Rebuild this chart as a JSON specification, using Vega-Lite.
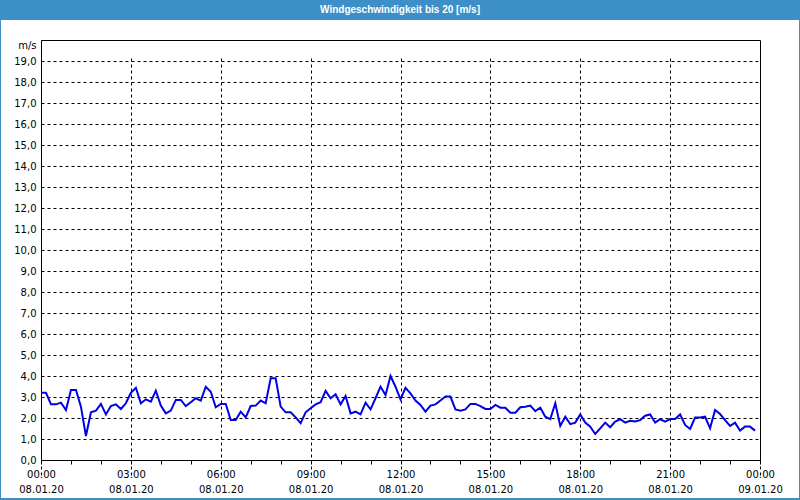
{
  "$schema": "https://vega.github.io/schema/vega-lite/v6.json",
  "padding": {"left": 1, "top": 0, "right": 1, "bottom": 2},
  "background": "#3d8fc8",
  "spacing": 0,
  "columns": 1,
  "config": {
    "axis": {"labelFont": "DejaVu Sans", "labelFontSize": 10, "labelColor": "black", "domainColor": "black", "domainWidth": 1}
  },
  "concat": [
    {
      "width": 798,
      "height": 20,
      "view": {"stroke": null},
      "data": {"values": [{"t": "Windgeschwindigkeit bis 20 [m/s]"}]},
      "mark": {"type": "text", "color": "white", "font": "Liberation Sans", "fontSize": 10, "fontWeight": "bold"},
      "encoding": {"text": {"field": "t"}}
    },
    {
      "width": 798,
      "height": 478,
      "view": {"fill": "white", "stroke": null},
      "data": {"values": [
        {"t":"2020-01-08T00:00","v":3.2},{"t":"2020-01-08T00:10","v":3.2},{"t":"2020-01-08T00:20","v":2.65},{"t":"2020-01-08T00:30","v":2.65},{"t":"2020-01-08T00:40","v":2.73},{"t":"2020-01-08T00:50","v":2.38},
        {"t":"2020-01-08T01:00","v":3.33},{"t":"2020-01-08T01:10","v":3.33},{"t":"2020-01-08T01:20","v":2.54},{"t":"2020-01-08T01:30","v":1.14},{"t":"2020-01-08T01:40","v":2.27},{"t":"2020-01-08T01:50","v":2.35},
        {"t":"2020-01-08T02:00","v":2.67},{"t":"2020-01-08T02:10","v":2.17},{"t":"2020-01-08T02:20","v":2.57},{"t":"2020-01-08T02:30","v":2.65},{"t":"2020-01-08T02:40","v":2.43},{"t":"2020-01-08T02:50","v":2.7},
        {"t":"2020-01-08T03:00","v":3.2},{"t":"2020-01-08T03:10","v":3.44},{"t":"2020-01-08T03:20","v":2.7},{"t":"2020-01-08T03:30","v":2.89},{"t":"2020-01-08T03:40","v":2.78},{"t":"2020-01-08T03:50","v":3.3},
        {"t":"2020-01-08T04:00","v":2.59},{"t":"2020-01-08T04:10","v":2.22},{"t":"2020-01-08T04:20","v":2.35},{"t":"2020-01-08T04:30","v":2.86},{"t":"2020-01-08T04:40","v":2.86},{"t":"2020-01-08T04:50","v":2.57},
        {"t":"2020-01-08T05:00","v":2.75},{"t":"2020-01-08T05:10","v":2.94},{"t":"2020-01-08T05:20","v":2.83},{"t":"2020-01-08T05:30","v":3.49},{"t":"2020-01-08T05:40","v":3.25},{"t":"2020-01-08T05:50","v":2.51},
        {"t":"2020-01-08T06:00","v":2.67},{"t":"2020-01-08T06:10","v":2.67},{"t":"2020-01-08T06:20","v":1.9},{"t":"2020-01-08T06:30","v":1.9},{"t":"2020-01-08T06:40","v":2.3},{"t":"2020-01-08T06:50","v":2.03},
        {"t":"2020-01-08T07:00","v":2.57},{"t":"2020-01-08T07:10","v":2.59},{"t":"2020-01-08T07:20","v":2.83},{"t":"2020-01-08T07:30","v":2.7},{"t":"2020-01-08T07:40","v":3.89},{"t":"2020-01-08T07:50","v":3.89},
        {"t":"2020-01-08T08:00","v":2.54},{"t":"2020-01-08T08:10","v":2.27},{"t":"2020-01-08T08:20","v":2.27},{"t":"2020-01-08T08:30","v":2.03},{"t":"2020-01-08T08:40","v":1.75},{"t":"2020-01-08T08:50","v":2.27},
        {"t":"2020-01-08T09:00","v":2.46},{"t":"2020-01-08T09:10","v":2.65},{"t":"2020-01-08T09:20","v":2.75},{"t":"2020-01-08T09:30","v":3.29},{"t":"2020-01-08T09:40","v":2.94},{"t":"2020-01-08T09:50","v":3.13},
        {"t":"2020-01-08T10:00","v":2.65},{"t":"2020-01-08T10:10","v":3.05},{"t":"2020-01-08T10:20","v":2.22},{"t":"2020-01-08T10:30","v":2.3},{"t":"2020-01-08T10:40","v":2.17},{"t":"2020-01-08T10:50","v":2.73},
        {"t":"2020-01-08T11:00","v":2.41},{"t":"2020-01-08T11:10","v":2.94},{"t":"2020-01-08T11:20","v":3.49},{"t":"2020-01-08T11:30","v":3.1},{"t":"2020-01-08T11:40","v":4.0},{"t":"2020-01-08T11:50","v":3.49},
        {"t":"2020-01-08T12:00","v":2.89},{"t":"2020-01-08T12:10","v":3.44},{"t":"2020-01-08T12:20","v":3.17},{"t":"2020-01-08T12:30","v":2.83},{"t":"2020-01-08T12:40","v":2.62},{"t":"2020-01-08T12:50","v":2.3},
        {"t":"2020-01-08T13:00","v":2.59},{"t":"2020-01-08T13:10","v":2.65},{"t":"2020-01-08T13:20","v":2.83},{"t":"2020-01-08T13:30","v":3.02},{"t":"2020-01-08T13:40","v":3.02},{"t":"2020-01-08T13:50","v":2.41},
        {"t":"2020-01-08T14:00","v":2.35},{"t":"2020-01-08T14:10","v":2.41},{"t":"2020-01-08T14:20","v":2.67},{"t":"2020-01-08T14:30","v":2.67},{"t":"2020-01-08T14:40","v":2.57},{"t":"2020-01-08T14:50","v":2.43},
        {"t":"2020-01-08T15:00","v":2.43},{"t":"2020-01-08T15:10","v":2.62},{"t":"2020-01-08T15:20","v":2.49},{"t":"2020-01-08T15:30","v":2.49},{"t":"2020-01-08T15:40","v":2.25},{"t":"2020-01-08T15:50","v":2.25},
        {"t":"2020-01-08T16:00","v":2.51},{"t":"2020-01-08T16:10","v":2.54},{"t":"2020-01-08T16:20","v":2.59},{"t":"2020-01-08T16:30","v":2.33},{"t":"2020-01-08T16:40","v":2.49},{"t":"2020-01-08T16:50","v":2.06},
        {"t":"2020-01-08T17:00","v":1.95},{"t":"2020-01-08T17:10","v":2.7},{"t":"2020-01-08T17:20","v":1.62},{"t":"2020-01-08T17:30","v":2.06},{"t":"2020-01-08T17:40","v":1.71},{"t":"2020-01-08T17:50","v":1.78},
        {"t":"2020-01-08T18:00","v":2.17},{"t":"2020-01-08T18:10","v":1.78},{"t":"2020-01-08T18:20","v":1.59},{"t":"2020-01-08T18:30","v":1.24},{"t":"2020-01-08T18:40","v":1.51},{"t":"2020-01-08T18:50","v":1.78},
        {"t":"2020-01-08T19:00","v":1.56},{"t":"2020-01-08T19:10","v":1.83},{"t":"2020-01-08T19:20","v":1.94},{"t":"2020-01-08T19:30","v":1.78},{"t":"2020-01-08T19:40","v":1.87},{"t":"2020-01-08T19:50","v":1.83},
        {"t":"2020-01-08T20:00","v":1.9},{"t":"2020-01-08T20:10","v":2.11},{"t":"2020-01-08T20:20","v":2.17},{"t":"2020-01-08T20:30","v":1.78},{"t":"2020-01-08T20:40","v":1.94},{"t":"2020-01-08T20:50","v":1.83},
        {"t":"2020-01-08T21:00","v":1.95},{"t":"2020-01-08T21:10","v":1.95},{"t":"2020-01-08T21:20","v":2.17},{"t":"2020-01-08T21:30","v":1.67},{"t":"2020-01-08T21:40","v":1.48},{"t":"2020-01-08T21:50","v":2.02},
        {"t":"2020-01-08T22:00","v":2.02},{"t":"2020-01-08T22:10","v":2.06},{"t":"2020-01-08T22:20","v":1.51},{"t":"2020-01-08T22:30","v":2.38},{"t":"2020-01-08T22:40","v":2.19},{"t":"2020-01-08T22:50","v":1.9},
        {"t":"2020-01-08T23:00","v":1.62},{"t":"2020-01-08T23:10","v":1.78},{"t":"2020-01-08T23:20","v":1.4},{"t":"2020-01-08T23:30","v":1.59},{"t":"2020-01-08T23:40","v":1.59},{"t":"2020-01-08T23:50","v":1.4}
      ]},
      "layer": [
        {
          "mark": {"type": "line", "color": "#0000e6", "strokeWidth": 2},
          "encoding": {
            "x": {
              "field": "t", "type": "temporal",
              "scale": {"domain": [{"year": 2020, "month": 1, "date": 8, "hours": 0}, {"year": 2020, "month": 1, "date": 9, "hours": 0}], "range": [40, 759], "nice": false},
              "axis": {
                "title": null,
                "offset": -38,
                "domain": true,
                "values": [
                  {"year": 2020, "month": 1, "date": 8, "hours": 0}, {"year": 2020, "month": 1, "date": 8, "hours": 1}, {"year": 2020, "month": 1, "date": 8, "hours": 2},
                  {"year": 2020, "month": 1, "date": 8, "hours": 3}, {"year": 2020, "month": 1, "date": 8, "hours": 4}, {"year": 2020, "month": 1, "date": 8, "hours": 5},
                  {"year": 2020, "month": 1, "date": 8, "hours": 6}, {"year": 2020, "month": 1, "date": 8, "hours": 7}, {"year": 2020, "month": 1, "date": 8, "hours": 8},
                  {"year": 2020, "month": 1, "date": 8, "hours": 9}, {"year": 2020, "month": 1, "date": 8, "hours": 10}, {"year": 2020, "month": 1, "date": 8, "hours": 11},
                  {"year": 2020, "month": 1, "date": 8, "hours": 12}, {"year": 2020, "month": 1, "date": 8, "hours": 13}, {"year": 2020, "month": 1, "date": 8, "hours": 14},
                  {"year": 2020, "month": 1, "date": 8, "hours": 15}, {"year": 2020, "month": 1, "date": 8, "hours": 16}, {"year": 2020, "month": 1, "date": 8, "hours": 17},
                  {"year": 2020, "month": 1, "date": 8, "hours": 18}, {"year": 2020, "month": 1, "date": 8, "hours": 19}, {"year": 2020, "month": 1, "date": 8, "hours": 20},
                  {"year": 2020, "month": 1, "date": 8, "hours": 21}, {"year": 2020, "month": 1, "date": 8, "hours": 22}, {"year": 2020, "month": 1, "date": 8, "hours": 23},
                  {"year": 2020, "month": 1, "date": 9, "hours": 0}
                ],
                "ticks": true, "tickSize": 4, "tickColor": "black",
                "labelOverlap": false, "labelFlush": false,
                "labelPadding": 5, "labelLineHeight": 15, "labelBaseline": "top",
                "labelExpr": "hours(datum.value) % 3 === 0 ? [timeFormat(datum.value, '%H:%M'), timeFormat(datum.value, '%d.%m.%y')] : ''",
                "grid": true, "gridColor": "black", "gridDash": [3, 3], "gridWidth": 1,
                "gridOpacity": {"condition": {"test": "hours(datum.value) % 3 === 0", "value": 1}, "value": 0}
              }
            },
            "y": {
              "field": "v", "type": "quantitative",
              "scale": {"domain": [0, 20], "range": [440, 20], "nice": false},
              "axis": {
                "title": null,
                "offset": -40,
                "domain": true, "ticks": false,
                "values": [0,1,2,3,4,5,6,7,8,9,10,11,12,13,14,15,16,17,18,19,20],
                "labelPadding": 5,
                "labelExpr": "datum.value === 20 ? 'm/s' : replace(format(datum.value, '.1f'), '.', ',')",
                "labelBaseline": {"condition": {"test": "datum.value === 20", "value": "top"}, "value": "middle"},
                "grid": true, "gridColor": "black", "gridDash": [3, 3], "gridWidth": 1
              }
            }
          }
        },
        {
          "mark": {"type": "line", "opacity": 0},
          "encoding": {
            "x": {
              "field": "t", "type": "temporal",
              "axis": {"orient": "top", "title": null, "offset": -20, "domain": true, "labels": false, "ticks": false, "grid": false}
            },
            "y": {
              "field": "v", "type": "quantitative",
              "axis": {"orient": "right", "title": null, "offset": -39, "domain": true, "labels": false, "ticks": false, "grid": false}
            }
          }
        }
      ],
      "resolve": {"axis": {"x": "independent", "y": "independent"}}
    }
  ]
}
